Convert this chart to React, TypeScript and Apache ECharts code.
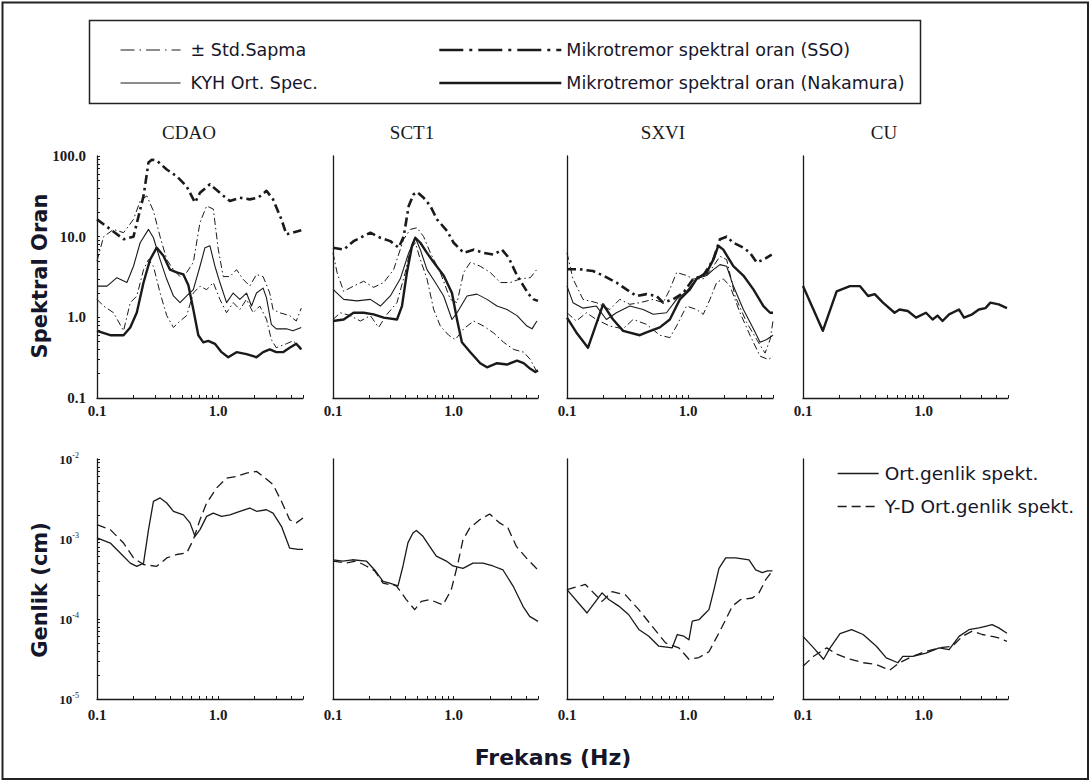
import React, { useEffect, useRef } from "react";
import * as echarts from "echarts";

// ---------- Names ----------
const STATIONS = ["CDAO", "SCT1", "SXVI", "CU"];
const STD = "± Std.Sapma";
const KYH = "KYH Ort. Spec.";
const SSO = "Mikrotremor spektral oran (SSO)";
const NAK = "Mikrotremor spektral oran (Nakamura)";
const ORT = "Ort.genlik spekt.";
const YD = "Y-D Ort.genlik spekt.";

// ---------- Axis tick values ----------
const X_TICKS = [0.1, 0.2, 0.3, 0.4, 0.5, 0.6, 0.7, 0.8, 0.9, 1, 2, 3, 4, 5];
const X_LABELS = [0.1, 1];
const RATIO_TICKS = [
  0.1, 0.2, 0.3, 0.4, 0.5, 0.6, 0.7, 0.8, 0.9, 1, 2, 3, 4, 5, 6, 7, 8, 9, 10, 20, 30, 40, 50, 60, 70, 80, 90, 100,
];
const RATIO_LABELS = [0.1, 1, 10, 100];
const AMP_TICKS = [
  1e-5, 2e-5, 3e-5, 4e-5, 5e-5, 6e-5, 7e-5, 8e-5, 9e-5, 1e-4, 2e-4, 3e-4, 4e-4, 5e-4, 6e-4, 7e-4, 8e-4, 9e-4, 1e-3,
  2e-3, 3e-3, 4e-3, 5e-3, 6e-3, 7e-3, 8e-3, 9e-3, 1e-2,
];
const AMP_LABELS = [1e-5, 1e-4, 1e-3, 1e-2];

// ---------- Spectral ratio (top row) [Hz, ratio] ----------
const CDAO_SSO = [[0.1,16.4],[0.166,9.3],[0.2,10],[0.242,32],[0.266,83],[0.283,90],[0.311,88],[0.376,68],[0.4545,56],[0.549,42],[0.643,26.5],[0.707,35],[0.854,44.6],[1.065,33.5],[1.247,27.7],[1.507,30.4],[1.82,29],[2.13,30.4],[2.5,37],[2.83,29],[3.32,16.4],[3.645,10.7],[4.13,11.2],[4.84,12]];
const CDAO_NAK = [[0.1,0.68],[0.1287,0.6],[0.1656,0.6],[0.188,0.75],[0.213,1.15],[0.242,2.7],[0.274,5.2],[0.311,7.3],[0.353,5.8],[0.4,3.9],[0.4545,3.6],[0.516,3.4],[0.567,2.5],[0.623,1.25],[0.685,0.6],[0.753,0.49],[0.827,0.51],[0.939,0.47],[1.065,0.37],[1.208,0.32],[1.415,0.37],[1.71,0.35],[2.066,0.32],[2.344,0.37],[2.66,0.4],[3.01,0.37],[3.42,0.37],[3.88,0.42],[4.4,0.47],[4.84,0.4]];
const CDAO_KYH = [[0.1,2.44],[0.121,2.44],[0.146,3.1],[0.1765,2.7],[0.2,4.3],[0.227,8.4],[0.266,12.3],[0.292,9.7],[0.3315,5.2],[0.376,2.96],[0.427,1.84],[0.484,1.52],[0.549,1.84],[0.623,2.2],[0.707,4.3],[0.777,7.3],[0.854,7.7],[0.939,4.3],[1.032,2.7],[1.171,1.52],[1.328,2.0],[1.507,1.67],[1.71,2.0],[1.88,1.38],[2.066,2.0],[2.344,2.3],[2.5,1.74],[2.74,0.82],[3.01,0.72],[3.645,0.72],[4.13,0.68],[4.84,0.75]];
const CDAO_STD_HI = [[0.1,5],[0.1134,10],[0.137,12.3],[0.1656,11.2],[0.2,16.4],[0.227,27.7],[0.2576,32],[0.292,20.8],[0.3315,10],[0.376,5.2],[0.427,3.9],[0.484,3.2],[0.549,3.6],[0.623,4.8],[0.707,15],[0.802,24],[0.91,22],[1.0,7],[1.099,3.2],[1.247,3.2],[1.415,3.9],[1.605,2.96],[1.82,2.44],[2.066,3.4],[2.344,3.2],[2.66,2.0],[2.83,1.25],[3.21,1.14],[3.88,1.05],[4.4,0.9],[4.84,1.3]];
const CDAO_STD_LO = [[0.1,1.67],[0.1134,1.38],[0.137,1.14],[0.1656,0.68],[0.188,1.52],[0.213,1.84],[0.242,3.9],[0.266,5.2],[0.292,4.3],[0.3315,2.0],[0.376,1.05],[0.427,0.75],[0.484,0.9],[0.549,1.05],[0.623,2.0],[0.707,2.44],[0.802,2.2],[0.91,2.7],[1.032,1.67],[1.171,1.14],[1.328,1.52],[1.507,1.25],[1.71,1.67],[1.94,1.14],[2.2,1.38],[2.5,0.95],[2.74,0.53],[3.01,0.42],[3.645,0.47],[4.13,0.51],[4.84,0.42]];

const SCT1_SSO = [[0.1,7.3],[0.1226,6.9],[0.148,8.8],[0.204,11.2],[0.247,9.7],[0.2986,8.8],[0.35,7.3],[0.385,10],[0.424,24],[0.466,33.5],[0.497,35.8],[0.564,30.4],[0.641,24],[0.727,16.4],[0.881,11.8],[1.0,8.4],[1.21,6.3],[1.465,6.9],[1.77,6.3],[2.145,6.0],[2.515,6.9],[2.856,5.5],[3.35,3.3],[3.8,2.44],[4.18,1.94],[4.6,1.67],[5.0,1.6]];
const SCT1_NAK = [[0.1,0.9],[0.1226,0.94],[0.148,1.14],[0.1796,1.14],[0.217,1.09],[0.263,0.99],[0.339,0.94],[0.373,1.38],[0.41,3.6],[0.452,7.7],[0.481,9.7],[0.5295,8.4],[0.601,6.3],[0.683,4.8],[0.826,3.3],[0.968,2.0],[1.066,0.94],[1.17,0.49],[1.375,0.37],[1.66,0.27],[1.89,0.24],[2.286,0.27],[2.767,0.26],[3.35,0.29],[3.8,0.27],[4.32,0.23],[4.75,0.21],[5.0,0.22]];
const SCT1_KYH = [[0.1,2.22],[0.1226,1.67],[0.158,1.6],[0.204,1.67],[0.247,1.38],[0.2986,1.84],[0.361,3.0],[0.424,6.3],[0.481,9.7],[0.5295,6.9],[0.601,3.9],[0.705,2.7],[0.826,1.84],[0.968,0.94],[1.066,1.14],[1.29,1.84],[1.56,1.94],[1.89,1.67],[2.286,1.38],[2.767,1.25],[3.35,1.05],[4.05,0.78],[4.46,0.72],[4.9,0.9]];
const SCT1_STD_HI = [[0.1,6.3],[0.108,3.6],[0.1226,2.1],[0.148,2.44],[0.1796,2.8],[0.217,2.35],[0.263,2.7],[0.318,3.9],[0.385,9.3],[0.4375,12.3],[0.497,12.9],[0.564,10],[0.641,6.3],[0.775,3.6],[0.938,1.67],[1.066,1.52],[1.21,3.6],[1.375,4.8],[1.66,4.3],[2.01,3.6],[2.436,2.7],[2.95,2.7],[3.57,3.0],[4.32,3.1],[5.0,4.1]];
const SCT1_STD_LO = [[0.1,0.94],[0.115,1.14],[0.139,1.05],[0.1685,0.9],[0.204,1.05],[0.239,0.75],[0.28,1.09],[0.339,1.52],[0.397,3.6],[0.4375,6.9],[0.481,8.4],[0.5295,5.2],[0.601,3.0],[0.683,1.25],[0.775,0.78],[0.909,0.6],[1.032,0.53],[1.21,0.72],[1.465,0.9],[1.77,0.78],[2.145,0.64],[2.596,0.49],[3.14,0.4],[3.8,0.37],[4.32,0.3],[4.9,0.21]];

const SXVI_SSO = [[0.1,3.94],[0.1273,3.94],[0.164,3.75],[0.1984,3.3],[0.2557,2.7],[0.309,2.22],[0.374,1.84],[0.4524,1.94],[0.547,1.84],[0.621,1.52],[0.751,1.67],[0.909,2.0],[1.1,3.0],[1.33,3.3],[1.61,5.2],[1.827,9.3],[2.074,10],[2.355,8.4],[2.848,7.3],[3.23,6.3],[3.67,4.8],[4.17,5.2],[4.88,6.0]];
const SXVI_NAK = [[0.1,0.99],[0.1194,0.65],[0.149,0.42],[0.1984,1.45],[0.24,0.94],[0.2903,0.68],[0.3986,0.6],[0.4524,0.65],[0.583,0.75],[0.705,0.94],[0.853,1.67],[1.032,2.22],[1.172,3.0],[1.418,3.6],[1.61,5.2],[1.77,7.7],[1.946,6.9],[2.355,4.3],[2.848,3.3],[3.445,2.22],[4.17,1.38],[4.73,1.14],[5.0,1.14]];
const SXVI_KYH = [[0.1,2.44],[0.112,1.52],[0.1356,1.3],[0.1747,1.38],[0.2114,0.94],[0.2557,1.14],[0.3295,1.38],[0.4246,1.25],[0.5136,1.09],[0.662,1.14],[0.801,1.67],[0.968,2.1],[1.172,3.0],[1.418,3.3],[1.61,3.9],[1.827,4.5],[2.074,4.3],[2.355,2.44],[2.848,1.25],[3.445,0.72],[3.91,0.49],[4.44,0.53],[5.0,0.6]];
const SXVI_STD_HI = [[0.1,6.3],[0.112,3.0],[0.1356,1.67],[0.1747,1.52],[0.2253,1.25],[0.2724,1.67],[0.3295,1.45],[0.3986,1.52],[0.5136,1.67],[0.621,1.52],[0.705,2.22],[0.801,3.6],[0.968,3.3],[1.1,3.0],[1.33,3.0],[1.61,4.3],[1.827,5.7],[2.074,5.2],[2.43,1.84],[3.035,0.86],[3.67,0.53],[4.3,0.36],[4.73,0.53],[5.0,0.9]];
const SXVI_STD_LO = [[0.1,1.14],[0.1194,0.9],[0.1444,1.14],[0.1747,0.94],[0.2253,0.78],[0.2903,0.72],[0.351,0.94],[0.4524,0.82],[0.583,0.6],[0.705,0.56],[0.801,0.78],[0.968,1.38],[1.172,1.25],[1.33,1.09],[1.51,1.67],[1.714,2.7],[1.946,3.0],[2.21,2.44],[2.673,1.14],[3.23,0.6],[3.91,0.33],[4.58,0.3],[5.0,0.33]];

const CU_NAK = [[0.1,2.44],[0.146,0.68],[0.19,2.1],[0.245,2.44],[0.296,2.44],[0.3465,1.84],[0.393,1.94],[0.46,1.52],[0.574,1.14],[0.631,1.25],[0.739,1.2],[0.865,0.99],[1.045,1.14],[1.186,0.94],[1.303,1.05],[1.433,0.9],[1.625,1.09],[1.965,1.25],[2.16,0.99],[2.527,1.09],[2.867,1.25],[3.252,1.3],[3.575,1.52],[4.19,1.45],[4.9,1.3]];

// ---------- Amplitude spectra (bottom row) [Hz, cm] ----------
const CDAO_ORT = [[0.1,1.03e-3],[0.1287,0.89e-3],[0.1555,0.67e-3],[0.188,0.5e-3],[0.213,0.455e-3],[0.242,0.5e-3],[0.266,1.31e-3],[0.292,2.96e-3],[0.3315,3.26e-3],[0.376,2.82e-3],[0.427,2.22e-3],[0.516,2.0e-3],[0.585,1.59e-3],[0.643,1.08e-3],[0.707,1.31e-3],[0.802,1.92e-3],[0.91,2.11e-3],[1.065,1.92e-3],[1.247,2.0e-3],[1.507,2.22e-3],[1.82,2.44e-3],[2.066,2.22e-3],[2.5,2.32e-3],[2.83,2.11e-3],[3.32,1.44e-3],[3.88,0.77e-3],[4.55,0.74e-3],[5.0,0.74e-3]];
const CDAO_YD = [[0.1,1.51e-3],[0.1287,1.31e-3],[0.1656,0.89e-3],[0.2,0.58e-3],[0.242,0.48e-3],[0.311,0.455e-3],[0.376,0.58e-3],[0.4545,0.64e-3],[0.549,0.67e-3],[0.623,0.98e-3],[0.707,1.74e-3],[0.802,2.82e-3],[0.969,4.34e-3],[1.171,5.78e-3],[1.415,6.07e-3],[1.71,6.68e-3],[2.066,7.0e-3],[2.344,6.07e-3],[2.83,4.78e-3],[3.32,2.96e-3],[3.88,1.74e-3],[4.4,1.59e-3],[5.0,1.83e-3]];
const SCT1_ORT = [[0.1,5.5e-4],[0.121,5.3e-4],[0.1446,5.5e-4],[0.1889,5.3e-4],[0.2215,4.1e-4],[0.2597,2.95e-4],[0.2949,2.8e-4],[0.3457,2.6e-4],[0.3803,4.6e-4],[0.4183,9.0e-4],[0.46,1.19e-3],[0.4906,1.28e-3],[0.557,1.08e-3],[0.6325,8.1e-4],[0.7185,6.1e-4],[0.87,5.3e-4],[0.987,4.6e-4],[1.195,4.3e-4],[1.4457,5.0e-4],[1.75,5.0e-4],[2.118,4.6e-4],[2.563,4.1e-4],[3.1,2.6e-4],[3.755,1.44e-4],[4.264,1.08e-4],[5.0,9.35e-5]];
const SCT1_YD = [[0.1,5.3e-4],[0.129,5.0e-4],[0.156,5.3e-4],[0.1889,4.6e-4],[0.2215,4.0e-4],[0.2597,2.8e-4],[0.335,2.6e-4],[0.405,1.75e-4],[0.475,1.31e-4],[0.54,1.66e-4],[0.6325,1.75e-4],[0.816,1.5e-4],[0.956,2.33e-4],[1.086,5.0e-4],[1.195,9.8e-4],[1.357,1.37e-3],[1.643,1.74e-3],[1.988,2.05e-3],[2.405,1.59e-3],[2.82,1.37e-3],[3.306,8.1e-4],[4.0,5.8e-4],[5.0,4.1e-4]];
const SXVI_ORT = [[0.1,2.33e-4],[0.1463,1.19e-4],[0.1946,2.12e-4],[0.221,1.75e-4],[0.2673,1.45e-4],[0.3233,1.13e-4],[0.391,7.4e-5],[0.473,6.1e-5],[0.5722,4.57e-5],[0.7377,4.36e-5],[0.8118,6.4e-5],[0.92,6.1e-5],[1.013,5.5e-5],[1.079,9.4e-5],[1.225,9.8e-5],[1.39,1.19e-4],[1.482,1.31e-4],[1.63,2.33e-4],[1.792,4.3e-4],[2.035,5.8e-4],[2.46,5.8e-4],[3.172,5.5e-4],[3.6,4.1e-4],[4.08,3.8e-4],[4.5,4.0e-4],[4.95,4.0e-4]];
const SXVI_YD = [[0.1,2.33e-4],[0.1418,2.7e-4],[0.1946,1.66e-4],[0.2355,2.2e-4],[0.3035,2.0e-4],[0.391,1.31e-4],[0.504,8.1e-5],[0.65,5.02e-5],[0.837,4.36e-5],[1.013,3.14e-5],[1.225,3.3e-5],[1.482,3.9e-5],[1.792,6.7e-5],[2.035,9.8e-5],[2.31,1.45e-4],[2.707,1.75e-4],[3.38,1.83e-4],[3.83,2.12e-4],[4.356,3.1e-4],[4.95,4.0e-4]];
const CU_ORT = [[0.1,6.07e-5],[0.1224,4.36e-5],[0.148,3.14e-5],[0.1678,4.36e-5],[0.2027,6.55e-5],[0.2527,7.35e-5],[0.315,6.4e-5],[0.4057,4.57e-5],[0.49,3.27e-5],[0.611,2.84e-5],[0.672,3.42e-5],[0.812,3.42e-5],[1.045,3.75e-5],[1.345,4.36e-5],[1.625,4.14e-5],[1.965,6.07e-5],[2.373,7.35e-5],[2.867,7.75e-5],[3.252,8.11e-5],[3.69,8.51e-5],[4.19,7.75e-5],[4.9,6.65e-5]];
const CU_YD = [[0.1,2.56e-5],[0.1224,3.42e-5],[0.1575,4.36e-5],[0.19,3.63e-5],[0.245,3.14e-5],[0.315,2.84e-5],[0.4057,2.7e-5],[0.522,2.29e-5],[0.631,2.84e-5],[0.812,3.42e-5],[1.045,3.94e-5],[1.345,4.36e-5],[1.73,4.57e-5],[2.092,6.07e-5],[2.527,7.05e-5],[3.055,6.4e-5],[3.69,6.07e-5],[4.19,5.79e-5],[4.9,5.25e-5]];

// ---------- Styling ----------
const INK = "#1a1a1a";
const TXT = "#16162a";
const SANS = "'DejaVu Sans', Verdana, sans-serif";
const SERIF = "'Liberation Serif', 'Times New Roman', serif";

const STYLES: Record<string, any> = {
  [STD]: { width: 1, type: [7, 3, 1.5, 3] },
  [KYH]: { width: 1.1, type: "solid" },
  [SSO]: { width: 2.6, type: [9, 4, 2.5, 4] },
  [NAK]: { width: 2.4, type: "solid" },
  [ORT]: { width: 1.3, type: "solid" },
  [YD]: { width: 1.3, type: [9, 5] },
};

const TOP_SERIES: [string, number[][]][][] = [
  [[STD, CDAO_STD_HI], [STD, CDAO_STD_LO], [KYH, CDAO_KYH], [SSO, CDAO_SSO], [NAK, CDAO_NAK]],
  [[STD, SCT1_STD_HI], [STD, SCT1_STD_LO], [KYH, SCT1_KYH], [SSO, SCT1_SSO], [NAK, SCT1_NAK]],
  [[STD, SXVI_STD_HI], [STD, SXVI_STD_LO], [KYH, SXVI_KYH], [SSO, SXVI_SSO], [NAK, SXVI_NAK]],
  [[NAK, CU_NAK]],
];
const BOTTOM_SERIES: [string, number[][]][][] = [
  [[ORT, CDAO_ORT], [YD, CDAO_YD]],
  [[ORT, SCT1_ORT], [YD, SCT1_YD]],
  [[ORT, SXVI_ORT], [YD, SXVI_YD]],
  [[ORT, CU_ORT], [YD, CU_YD]],
];

const GRID_LEFT = [97, 333, 567, 803];
const GRID_WIDTH = [206, 205, 206, 205];
const TITLE_X = [189, 412, 663, 884];

function isDecade(v: number) {
  const l = Math.log10(v);
  return Math.abs(l - Math.round(l)) < 1e-6;
}

function buildOption() {
  const grid: any[] = [];
  const xAxis: any[] = [];
  const yAxis: any[] = [];
  const series: any[] = [];
  const axisLine = { show: true, lineStyle: { color: INK, width: 1.3 } };
  const tickLabelStyle = { fontFamily: SERIF, fontWeight: "bold", fontSize: 15, color: INK };

  for (let row = 0; row < 2; row++) {
    for (let col = 0; col < 4; col++) {
      const gi = row * 4 + col;
      grid.push({
        left: GRID_LEFT[col],
        width: GRID_WIDTH[col],
        top: row === 0 ? 156 : 459,
        height: row === 0 ? 242 : 240,
        containLabel: false,
      });
      xAxis.push({
        type: "log",
        logBase: 10,
        gridIndex: gi,
        min: 0.1,
        max: 5,
        axisLine,
        axisTick: { show: true, inside: true, length: 3, customValues: X_TICKS, lineStyle: { color: INK, width: 1 } },
        axisLabel: {
          show: true,
          customValues: X_LABELS,
          margin: row === 0 ? 5 : 8,
          ...tickLabelStyle,
          formatter: (v: number) => (isDecade(v) ? v.toFixed(1) : ""),
        },
        splitLine: { show: false },
        minorTick: { show: false },
      });
      const first = col === 0;
      if (row === 0) {
        yAxis.push({
          type: "log",
          logBase: 10,
          gridIndex: gi,
          min: 0.1,
          max: 100,
          axisLine,
          axisTick: { show: first, inside: true, length: 3, customValues: RATIO_TICKS, lineStyle: { color: INK, width: 1 } },
          axisLabel: {
            show: first,
            customValues: RATIO_LABELS,
            margin: 11,
            ...tickLabelStyle,
            formatter: (v: number) => v.toFixed(1),
          },
          splitLine: { show: false },
        });
      } else {
        yAxis.push({
          type: "log",
          logBase: 10,
          gridIndex: gi,
          min: 1e-5,
          max: 1e-2,
          axisLine,
          axisTick: { show: first, inside: true, length: 3, customValues: AMP_TICKS, lineStyle: { color: INK, width: 1 } },
          axisLabel: {
            show: first,
            customValues: AMP_LABELS,
            margin: 18,
            formatter: (v: number) => `{b|10}{s|${Math.round(Math.log10(v))}}`,
            rich: {
              b: { fontFamily: SERIF, fontWeight: "bold", fontSize: 13, color: INK },
              s: { fontFamily: SERIF, fontSize: 8, color: INK, verticalAlign: "top", padding: [0, 0, 7, 0] },
            },
          },
          splitLine: { show: false },
        });
      }
      const list = row === 0 ? TOP_SERIES[col] : BOTTOM_SERIES[col];
      list.forEach(([name, data]) => {
        const st = STYLES[name];
        series.push({
          type: "line",
          name,
          xAxisIndex: gi,
          yAxisIndex: gi,
          data,
          symbol: "none",
          showSymbol: false,
          smooth: false,
          silent: true,
          color: INK,
          lineStyle: { color: INK, width: st.width, type: st.type, join: "round" },
          itemStyle: { color: INK },
        });
      });
    }
  }

  const hiddenSymbol = { color: "rgba(0,0,0,0)", borderColor: "rgba(0,0,0,0)", borderWidth: 0, opacity: 0 };
  const legendText = { fontFamily: SANS, fontSize: 17.5, color: TXT, lineHeight: 16 };
  const legend = [
    {
      data: [
        { name: STD, lineStyle: { type: [14, 5, 1.5, 5] } },
        { name: KYH },
      ],
      orient: "vertical",
      left: 120,
      top: 41,
      padding: 0,
      itemWidth: 60,
      itemHeight: 16,
      itemGap: 15,
      selectedMode: false,
      lineStyle: { width: "inherit" },
      itemStyle: hiddenSymbol,
      textStyle: { ...legendText, padding: [0, 0, 0, 5] },
    },
    {
      data: [
        { name: SSO, lineStyle: { type: [24, 6, 3, 6] } },
        { name: NAK },
      ],
      orient: "vertical",
      left: 438,
      top: 41,
      padding: 0,
      itemWidth: 122,
      itemHeight: 16,
      itemGap: 15,
      selectedMode: false,
      lineStyle: { width: "inherit" },
      itemStyle: hiddenSymbol,
      textStyle: { ...legendText, padding: [0, 0, 0, 0] },
    },
    {
      data: [{ name: ORT }, { name: YD }],
      orient: "vertical",
      left: 837,
      top: 464,
      padding: 0,
      itemWidth: 41,
      itemHeight: 16,
      itemGap: 14,
      selectedMode: false,
      lineStyle: { width: "inherit" },
      itemStyle: hiddenSymbol,
      textStyle: { ...legendText, fontSize: 18.5, padding: [0, 0, 0, 1] },
    },
  ];

  const title = STATIONS.map((s, i) => ({
    text: s,
    left: TITLE_X[i],
    top: 123,
    textAlign: "center",
    padding: 0,
    textStyle: { fontFamily: SERIF, fontSize: 19, fontWeight: "normal", color: INK },
  }));

  const graphic = [
    {
      type: "rect",
      silent: true,
      z: 0,
      shape: { x: 2.5, y: 2.5, width: 1085.5, height: 776.5 },
      style: { fill: "none", stroke: "#222", lineWidth: 2 },
    },
    {
      type: "rect",
      silent: true,
      z: 0,
      shape: { x: 89.5, y: 20.5, width: 831, height: 83 },
      style: { fill: "none", stroke: "#222", lineWidth: 1.5 },
    },
    {
      type: "text",
      silent: true,
      x: 40,
      y: 276,
      rotation: Math.PI / 2,
      style: {
        text: "Spektral Oran",
        fontFamily: SANS,
        fontWeight: "bold",
        fontSize: 21,
        fill: TXT,
        align: "center",
        verticalAlign: "middle",
      },
    },
    {
      type: "text",
      silent: true,
      x: 40,
      y: 590,
      rotation: Math.PI / 2,
      style: {
        text: "Genlik (cm)",
        fontFamily: SANS,
        fontWeight: "bold",
        fontSize: 21,
        fill: TXT,
        align: "center",
        verticalAlign: "middle",
      },
    },
    {
      type: "text",
      silent: true,
      x: 553,
      y: 757,
      style: {
        text: "Frekans (Hz)",
        fontFamily: SANS,
        fontWeight: "bold",
        fontSize: 22,
        fill: TXT,
        align: "center",
        verticalAlign: "middle",
      },
    },
  ];

  return {
    animation: false,
    backgroundColor: "#ffffff",
    color: [INK],
    title,
    legend,
    grid,
    xAxis,
    yAxis,
    series,
    graphic,
  };
}

export default function App() {
  const ref = useRef<HTMLDivElement>(null);
  useEffect(() => {
    if (!ref.current) return;
    const chart = echarts.init(ref.current, null, { renderer: "svg" });
    chart.setOption(buildOption() as any);
    return () => chart.dispose();
  }, []);
  return (
    <div
      ref={ref}
      style={{ position: "absolute", left: 0, top: 0, width: 1091, height: 781, background: "#fff" }}
    />
  );
}
